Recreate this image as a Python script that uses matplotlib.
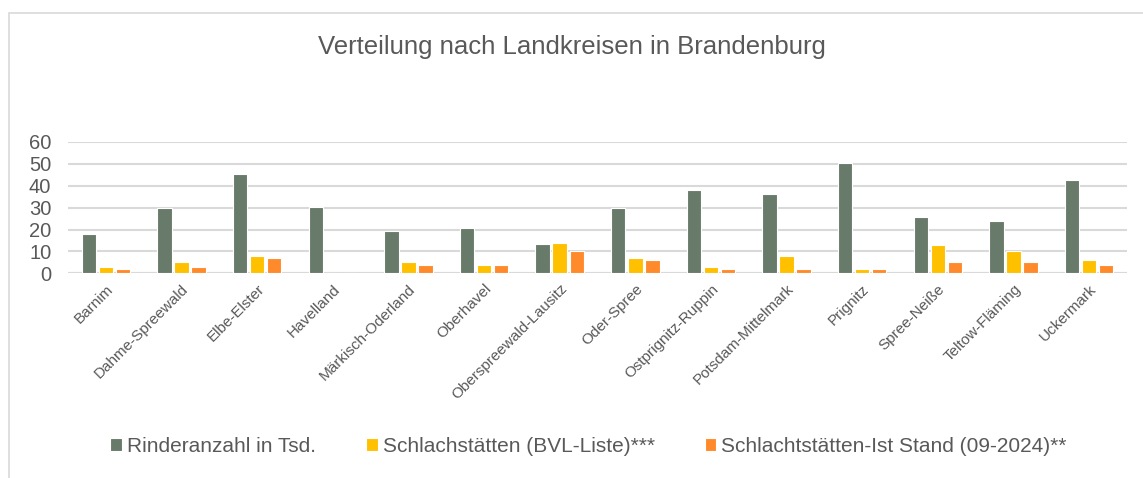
import numpy as np
import matplotlib.pyplot as plt
from matplotlib.patches import Rectangle

plt.rcParams['font.family'] = ['Liberation Sans', 'DejaVu Sans']

landkreise = ["Barnim", "Dahme-Spreewald", "Elbe-Elster", "Havelland", "Märkisch-Oderland",
              "Oberhavel", "Oberspreewald-Lausitz", "Oder-Spree", "Ostprignitz-Ruppin",
              "Potsdam-Mittelmark", "Prignitz", "Spree-Neiße", "Teltow-Fläming", "Uckermark"]
rinder = [18, 30, 45.3, 30.3, 19.5, 20.8, 13.2, 29.8, 38, 36, 50.2, 25.7, 24, 42.6]
bvl = [3, 5, 8, 0, 5, 4, 14, 7, 3, 8, 2, 13, 10, 6]
ist = [2, 3, 7, 0, 4, 4, 10, 6, 2, 2, 2, 5, 5, 4]

series = [("Rinderanzahl in Tsd.", rinder, "#687a69"),
          ("Schlachstätten (BVL-Liste)***", bvl, "#ffc000"),
          ("Schlachtstätten-Ist Stand (09-2024)**", ist, "#ff8a2b")]

fig = plt.figure(figsize=(11.43, 4.78), dpi=100)
ax = fig.add_axes([0.0595, 0.428, 0.9265, 0.2756])

x = np.arange(len(landkreise))
w = 0.19
for k, (name, vals, col) in enumerate(series):
    ax.bar(x + (k - 1) * 0.225, vals, width=w, color=col, edgecolor='white',
           linewidth=0.8, label=name, zorder=3)

ax.set_xlim(-0.5, len(landkreise) - 0.5)
ax.set_ylim(0, 60)
ax.set_yticks(range(0, 61, 10))
ax.yaxis.grid(True, color='#d9d9d9', linewidth=1.5, zorder=0)
ax.tick_params(axis='y', length=0, labelsize=14.5, labelcolor='#595959', pad=12)
ax.tick_params(axis='x', length=0, labelsize=11, labelcolor='#595959', pad=6)
ax.set_xticks(x)
ax.set_xticklabels(landkreise, rotation=45, ha='right', rotation_mode='anchor')
for s in ax.spines.values():
    s.set_visible(False)
ax.axhline(0, color='#d9d9d9', linewidth=1.5, zorder=2)

fig.text(0.5, 1 - 47 / 478, "Verteilung nach Landkreisen in Brandenburg", ha='center',
         va='center', fontsize=18.5, color='#595959')

fig.legend(loc='center', bbox_to_anchor=(0.515, 1 - 446 / 478), ncol=3, frameon=False,
           fontsize=15, handlelength=0.55, handleheight=0.6, handletextpad=0.25,
           columnspacing=2.4, labelcolor='#595959')

fig.patches.append(Rectangle((9 / 1143, -0.05), 1.2, 1.05 - 13 / 478,
                             transform=fig.transFigure, fill=False,
                             edgecolor='#d9d9d9', linewidth=1.2))

fig.savefig("out.png", dpi=100)
